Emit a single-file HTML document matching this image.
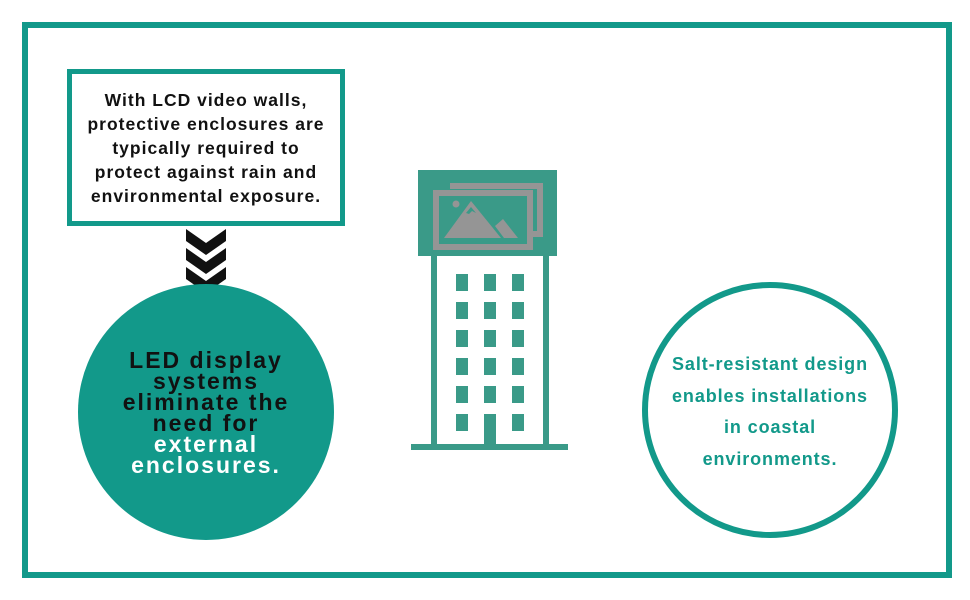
<!DOCTYPE html>
<html><head><style>
body{margin:0;width:970px;height:600px;background:#fff;position:relative;font-family:"Liberation Sans",sans-serif;overflow:hidden}
.a{position:absolute}
</style></head><body>
<div class="a" style="left:22px;top:22px;width:918px;height:544px;border:6px solid #12998a"></div>
<div class="a" style="left:67px;top:69px;width:268px;height:147px;border:5px solid #12998a;display:flex;align-items:center;justify-content:center;text-align:center;font-weight:bold;font-size:17.5px;letter-spacing:1px;line-height:24px;color:#111;white-space:nowrap">With LCD video walls,<br>protective enclosures are<br>typically required to<br>protect against rain and<br>environmental exposure.</div>
<svg class="a" style="left:0;top:0" width="970" height="600">
<g fill="#111">
<polygon points="186,229 206,243 226,229 226,241 206,255 186,241"/>
<polygon points="186,248 206,262 226,248 226,260 206,274 186,260"/>
<polygon points="186,267 206,281 226,267 226,279 206,293 186,279"/>
</g>
<circle cx="206" cy="412" r="128" fill="#12998a"/>
<circle cx="770" cy="410" r="125" fill="#fff" stroke="#12998a" stroke-width="6"/>
<g fill="#3a9a88">
<rect x="418" y="170" width="139" height="86"/>
<rect x="431" y="256" width="6" height="190"/>
<rect x="543" y="256" width="6" height="190"/>
<rect x="411" y="444" width="157" height="6"/>
<rect x="484" y="414" width="12" height="32"/>
</g>
<g fill="#3a9a88">
<rect x="456" y="274" width="12" height="17"/><rect x="484" y="274" width="12" height="17"/><rect x="512" y="274" width="12" height="17"/>
<rect x="456" y="302" width="12" height="17"/><rect x="484" y="302" width="12" height="17"/><rect x="512" y="302" width="12" height="17"/>
<rect x="456" y="330" width="12" height="17"/><rect x="484" y="330" width="12" height="17"/><rect x="512" y="330" width="12" height="17"/>
<rect x="456" y="358" width="12" height="17"/><rect x="484" y="358" width="12" height="17"/><rect x="512" y="358" width="12" height="17"/>
<rect x="456" y="386" width="12" height="17"/><rect x="484" y="386" width="12" height="17"/><rect x="512" y="386" width="12" height="17"/>
<rect x="456" y="414" width="12" height="17"/><rect x="512" y="414" width="12" height="17"/>
</g>
<g fill="none" stroke="#959595" stroke-width="6">
<polyline points="450,186 540,186 540,234 533,234"/>
<rect x="436" y="193" width="94" height="54"/>
</g>
<g fill="#959595">
<circle cx="456" cy="204" r="3.5"/>
<polygon points="444,238 471,201 501,238"/>
<polygon points="495,226 503,219 518,238 504,238"/>
</g>
<polygon points="466,213 471,207 476,213 472,211 469,214" fill="#3a9a88"/>
</svg>
<div class="a" style="left:60px;top:350px;width:292px;text-align:center;font-weight:bold;font-size:23px;letter-spacing:2px;line-height:21px;color:#111;white-space:nowrap">LED display<br>systems<br>eliminate the<br>need for<br><span style="color:#fff">external<br>enclosures.</span></div>
<div class="a" style="left:640px;top:349px;width:260px;text-align:center;font-weight:bold;font-size:18px;letter-spacing:0.9px;line-height:31.5px;color:#12998a;white-space:nowrap">Salt-resistant design<br>enables installations<br>in coastal<br>environments.</div>
</body></html>
